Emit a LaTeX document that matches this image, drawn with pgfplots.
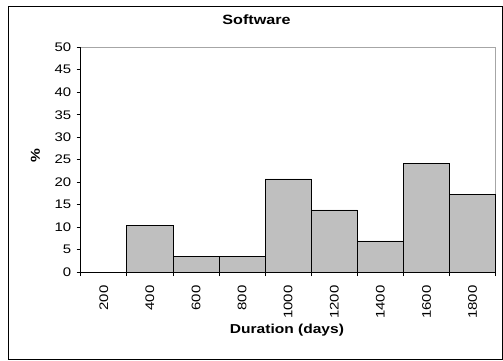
\documentclass[border=0pt]{standalone}
\usepackage{pgfplots}
\pgfplotsset{compat=1.18}
\usepackage{fontspec}
\setmainfont{Liberation Sans}[FakeStretch=1.2]
\begin{document}
\begin{tikzpicture}[x=1bp,y=1bp]
\path[use as bounding box] (-80.7,-88) rectangle (422.3,272);
\draw[line width=0.9bp] (-72.7,-87) rectangle (421.3,266);
\begin{axis}[
  at={(0,0)}, anchor=south west,
  scale only axis, width=415bp, height=224.7bp,
  xmin=-0.5, xmax=8.5, ymin=0, ymax=50,
  axis x line*=bottom, axis y line*=left,
  axis line style={black, line width=0.8bp},
  xtick={0,...,8},
  xticklabels={200,400,600,800,1000,1200,1400,1600,1800},
  minor xtick={-0.5,0.5,...,8.5},
  ytick={0,5,...,50},
  tick align=outside,
  major x tick style={draw=none},
  minor tick length=4bp, major tick length=4bp,
  tick style={black, line width=0.8bp},
  /pgf/number format/assume math mode=true,
  ticklabel style={font=\fontsize{12.5}{14}\selectfont},
  xticklabel style={rotate=90, anchor=east},
  xticklabel shift=6bp,
  yticklabel shift=2bp,
  title={\textbf{Software}},
  title style={at={(rel axis cs:0.4236,1.0948)}, anchor=center, font=\fontsize{13.5}{15}\selectfont},
  xlabel={\textbf{Duration (days)}},
  xlabel style={at={(rel axis cs:0.497,-0.258)}, anchor=center, font=\fontsize{13}{15}\selectfont},
  ylabel={\textbf{\%}},
  ylabel style={at={(rel axis cs:-0.109,0.516)}, anchor=center, rotate=0, font=\fontsize{13}{15}\selectfont},
  clip=false,
]
\draw[gray!70, line width=0.8bp] (rel axis cs:0,1) -- (rel axis cs:1,1) -- (rel axis cs:1,0);
\addplot[ybar, bar width=1, bar shift=0, fill=black!25, draw=black, line width=0.8bp]
  coordinates {(1,10.3) (2,3.4) (3,3.4) (4,20.7) (5,13.8) (6,6.9) (7,24.1) (8,17.2)};
\end{axis}
\end{tikzpicture}
\end{document}
